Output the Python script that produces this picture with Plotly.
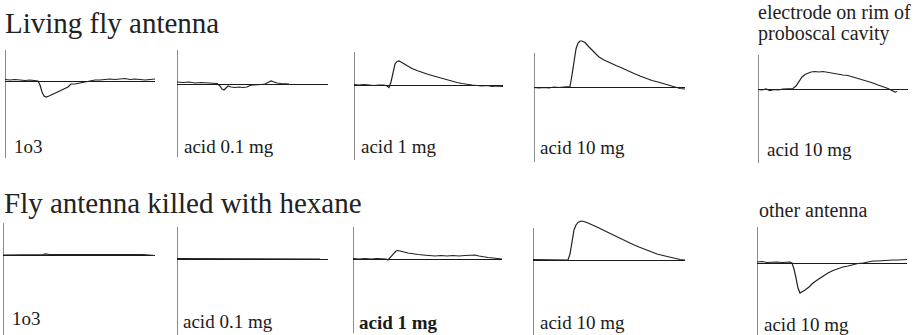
import plotly.graph_objects as go

# ---------------- data (time in arbitrary units, response amplitude in arbitrary units) ----------------
live_1o3_t = [0, 5, 10, 15, 20, 25, 30, 33, 35, 37, 39, 41, 44, 48, 52, 56, 60, 63, 66, 70, 75, 80, 85, 90, 95, 100, 105, 110, 115, 120, 125, 130, 135, 140, 145, 150]
live_1o3_v = [1.5, 1, 1.5, 1, 0.5, 1, 0.5, 0, -4, -11, -15, -16, -15, -13, -11, -9, -7, -6, -3, -3, -2, -1, 0, 1, 1, 1.5, 2, 1.5, 2, 2.5, 1.5, 2, 1.5, 1, 1.5, 2]

live_acid01_t = [0, 6, 12, 18, 24, 30, 36, 40, 43, 45, 47, 49, 51, 54, 58, 62, 66, 70, 73, 76, 80, 84, 88, 91, 94, 97, 100, 104, 108, 112]
live_acid01_v = [2, 1.5, 2, 1, 1.5, 1, 1, 0.5, -2, -5, -6, -4, -2, -3, -3.5, -3, -3.5, -3, -1.5, -1, -1, -0.5, 0, 1.5, 3, 2, 1, 0.5, 0.5, 0]

live_acid1_t = [0, 5, 10, 15, 20, 25, 30, 33, 35, 37, 39, 41, 43, 45, 47, 50, 54, 58, 63, 68, 73, 78, 83, 88, 93, 98, 103, 108, 113, 118, 123, 128, 133, 138, 143, 149]
live_acid1_v = [0.5, 0, 0.5, 0, -0.5, 0, 0, -1, -2.5, 3, 14, 21, 23.5, 24, 23, 21, 18.5, 16.5, 14.5, 12.5, 11, 9.5, 8, 6.5, 5, 3.5, 2.5, 1.5, 0.5, 0, -0.5, -1, -0.5, -1.5, -1, -1.5]

live_acid10_t = [0, 5, 10, 15, 20, 25, 30, 34, 36, 38, 40, 42, 44, 46, 48, 51, 55, 60, 65, 70, 76, 82, 88, 94, 100, 106, 112, 118, 124, 130, 136, 141, 146, 151]
live_acid10_v = [-0.5, -1, -0.5, -1, 0, -0.5, 0, 0, 0.5, 12, 28, 38, 44, 46, 46, 44.5, 40, 35, 30, 27, 24, 21.5, 19, 16, 13.5, 11, 8.5, 6.5, 5, 3.5, 1.5, 0, -1.5, -2]

rim_acid10_t = [0, 4, 8, 12, 16, 20, 25, 30, 35, 38, 41, 44, 47, 50, 53, 57, 61, 65, 70, 75, 80, 85, 90, 95, 100, 105, 110, 115, 120, 125, 130, 134, 137, 139]
rim_acid10_v = [-0.5, -1, 0, -1.5, -0.5, -1, 0, 0, 0.5, 3, 8, 12, 14.5, 16, 17, 17.5, 17, 17.5, 16.5, 16, 15, 14, 13.5, 12, 11, 9.5, 7.5, 6, 4, 2.5, 0.5, -1.5, -3, -2.5]

dead_1o3_t = [0, 10, 20, 25, 30, 35, 40, 43, 46, 50, 60, 70, 80, 90, 100, 110, 120, 130, 140, 152]
dead_1o3_v = [0, 0, 0, 0.5, 0, 0.5, 0.5, 1.2, 0.5, 0.5, 0.5, 0.3, 0, 0.3, 0.3, 0.5, 0.5, 0.3, 0.5, -0.5]

dead_acid01_t = [0, 15, 30, 45, 60, 75, 90, 105, 120, 135, 143]
dead_acid01_v = [0.5, 0.5, 0, 0.5, 0.3, 0.5, 0.3, 0.5, 0.5, 0.3, 0]

dead_acid1_t = [0, 6, 12, 18, 24, 30, 33, 35, 37, 40, 43, 45, 48, 51, 55, 60, 65, 70, 76, 82, 88, 94, 100, 106, 112, 118, 122, 126, 130, 135, 140, 145, 149]
dead_acid1_v = [0.5, 0, 0.5, 0, 0.5, 0, 0, -1, 1, 5, 8, 8.5, 8, 7, 6, 5, 4.5, 4, 3.5, 3, 3.5, 3, 3.5, 3, 3.5, 4, 4, 3, 2, 1.5, 1, 0.5, 0]

dead_acid10_t = [0, 5, 10, 15, 20, 25, 30, 35, 37, 39, 41, 43, 45, 48, 51, 55, 60, 65, 70, 76, 82, 88, 94, 100, 106, 112, 118, 124, 130, 136, 142, 147, 152]
dead_acid10_v = [0.5, 0.5, 0, 0, 0, 0, 0, 0, 6, 20, 30, 35, 37.5, 39, 38.5, 37, 35, 32.5, 30, 27, 24.5, 21.5, 18.5, 15.5, 13, 10.5, 8, 6, 4.5, 3, 1.5, 0.5, 0]

other_acid10_t = [0, 5, 10, 15, 20, 25, 30, 33, 35, 37, 39, 41, 43, 45, 48, 52, 56, 61, 66, 71, 76, 81, 86, 91, 96, 101, 106, 111, 116, 121, 126, 131, 136, 141, 146, 150]
other_acid10_v = [1, 1.5, 0.5, 1, 1, 0.5, 1, 1, 0, -6, -15, -25, -30, -29, -27, -24, -20, -16.5, -13, -10, -7.5, -5.5, -4, -3, -1.5, -0.5, 0, 1, 2, 2, 2.5, 2.5, 3, 3, 3, 3.5]

panel_labels = ["1o3", "acid 0.1 mg", "acid 1 mg", "acid 10 mg", "acid 10 mg",
                "1o3", "acid 0.1 mg", "<b>acid 1 mg</b>", "acid 10 mg", "acid 10 mg"]
row_titles = ["Living fly antenna", "Fly antenna killed with hexane"]
side_titles = ["electrode on rim of", "proboscal cavity", "other antenna"]

series_t = [live_1o3_t, live_acid01_t, live_acid1_t, live_acid10_t, rim_acid10_t,
            dead_1o3_t, dead_acid01_t, dead_acid1_t, dead_acid10_t, other_acid10_t]
series_v = [live_1o3_v, live_acid01_v, live_acid1_v, live_acid10_v, rim_acid10_v,
            dead_1o3_v, dead_acid01_v, dead_acid1_v, dead_acid10_v, other_acid10_v]

# ---------------- layout (pixel geometry of each small panel) ----------------
W, H = 924, 335
# (axis x, end x, axis top y, axis bottom y, baseline y) in pixels
geom = [
    (5, 155, 50, 158, 81),
    (177, 328, 50, 157, 84),
    (354, 503, 52, 160, 85),
    (534, 685, 53, 162, 87),
    (758, 908, 55, 163, 89),
    (3, 155, 223, 335, 255),
    (177, 328, 227, 335, 259),
    (353, 502, 227, 333, 259),
    (533, 685, 228, 335, 260),
    (757, 907, 227, 335, 263),
]
label_pos = [(12, 146), (182, 146), (359, 146), (538, 147), (765, 149),
             (10, 318), (181, 321), (357, 322), (538, 322), (762, 324)]

SERIF = "'Liberation Serif', 'Times New Roman', Times, serif"
INK = "#1a1a1a"

fig = go.Figure()
layout = dict(width=W, height=H, margin=dict(l=0, r=0, t=0, b=0), autosize=False,
              paper_bgcolor="white", plot_bgcolor="rgba(0,0,0,0)", showlegend=False)
annotations = []
shapes = []

for i, (t, v) in enumerate(zip(series_t, series_v)):
    ax_x, end_x, top_y, bot_y, base_y = geom[i]
    n = "" if i == 0 else str(i + 1)
    # plotting area extends above the drawn axis if the trace peaks higher
    area_top = min(top_y, base_y - max(v) - 3)
    fig.add_trace(go.Scatter(x=t, y=v, mode="lines", xaxis="x" + n, yaxis="y" + n,
                             line=dict(color="#222222", width=1.2), hoverinfo="skip"))
    layout["xaxis" + n] = dict(domain=[ax_x / W, end_x / W], range=[0, end_x - ax_x],
                               showgrid=False, zeroline=False, showline=False,
                               showticklabels=False, ticks="", anchor="y" + n, fixedrange=True)
    layout["yaxis" + n] = dict(domain=[1 - bot_y / H, 1 - area_top / H],
                               range=[-(bot_y - base_y), base_y - area_top],
                               showgrid=False, zeroline=True, zerolinecolor=INK, zerolinewidth=1,
                               showline=False, showticklabels=False, ticks="",
                               anchor="x" + n, fixedrange=True)
    # vertical axis bar of the panel
    shapes.append(dict(type="line", xref="x" + n, yref="y" + n, x0=0, x1=0,
                       y0=-(bot_y - base_y), y1=base_y - top_y,
                       line=dict(color=INK, width=1)))
    lx, ly = label_pos[i]
    annotations.append(dict(text=panel_labels[i], x=lx / W, y=1 - ly / H, xref="paper", yref="paper",
                            xanchor="left", yanchor="middle", showarrow=False,
                            font=dict(family=SERIF, size=19, color=INK)))

annotations.append(dict(text=row_titles[0], x=3 / W, y=1 - 23 / H, xref="paper", yref="paper",
                        xanchor="left", yanchor="middle", showarrow=False,
                        font=dict(family=SERIF, size=29, color="#222222")))
annotations.append(dict(text=row_titles[1], x=2 / W, y=1 - 203 / H, xref="paper", yref="paper",
                        xanchor="left", yanchor="middle", showarrow=False,
                        font=dict(family=SERIF, size=29, color="#222222")))
annotations.append(dict(text=side_titles[0], x=756 / W, y=1 - 12 / H, xref="paper", yref="paper",
                        xanchor="left", yanchor="middle", showarrow=False,
                        font=dict(family=SERIF, size=20, color="#222222")))
annotations.append(dict(text=side_titles[1], x=756 / W, y=1 - 34 / H, xref="paper", yref="paper",
                        xanchor="left", yanchor="middle", showarrow=False,
                        font=dict(family=SERIF, size=20, color="#222222")))
annotations.append(dict(text=side_titles[2], x=757 / W, y=1 - 210 / H, xref="paper", yref="paper",
                        xanchor="left", yanchor="middle", showarrow=False,
                        font=dict(family=SERIF, size=20, color="#222222")))

layout["annotations"] = annotations
layout["shapes"] = shapes
fig.update_layout(**layout)
fig.write_html("out.html", config={"displayModeBar": False, "staticPlot": True})
